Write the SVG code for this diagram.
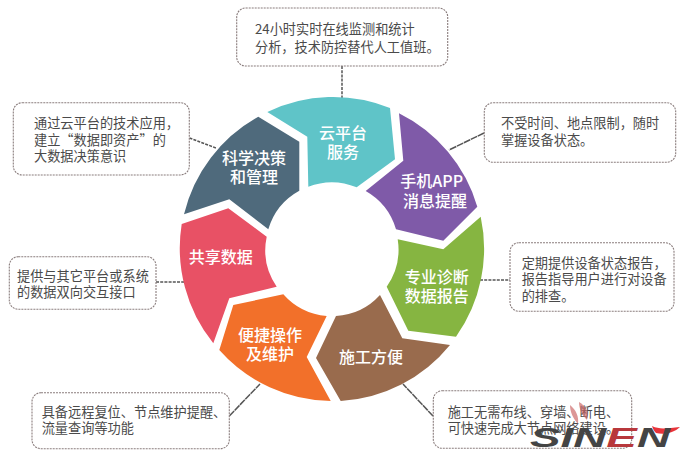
<svg xmlns="http://www.w3.org/2000/svg" width="696" height="460" viewBox="0 0 696 460">
<style>
text{font-family:"Noto Sans CJK SC","Noto Sans",sans-serif}
.box{fill:#fff;stroke:#8a7d7d;stroke-width:1.1;stroke-dasharray:2 1}
.t{font-size:13.2px;fill:#4a4a4a}
.l{font-size:16px;fill:#fff;text-anchor:middle;font-weight:500}
.c{fill:none;stroke:#555;stroke-width:1.5;stroke-dasharray:3 1.2}
.s{stroke-dasharray:7 .7}
</style>
<rect width="696" height="460" fill="#fff"/>
<g id="connectors">
<path class="c" d="M342,66V98"/>
<path class="c" d="M189.5,138L216,148"/>
<path class="c" d="M156,282H184"/>
<path class="c s" d="M484,133L449,150"/>
<path class="c" d="M480,280H510"/>
<path class="c s" d="M229.3,416L260,384"/>
<path class="c s" d="M433,416L403,384"/>
</g>
<g id="seg-cloud"><path fill="#5fc4c8" d="M267.3,112A152 152 0 0 1 390,108L395,159.3L356.7,187.3A65 65 0 0 0 308.3,186.7L307.3,136.7Z"/><text class="l" x="343" y="139">云平台</text><text class="l" x="343" y="158">服务</text></g>
<g id="seg-app"><path fill="#7f5aa8" d="M399,113.3A152 152 0 0 1 477.3,206.7L443.3,240.7L396,229.3A65 65 0 0 0 365.7,191L403.3,160.7Z"/><text class="l" x="431.7" y="187">手机APP</text><text class="l" x="435" y="206.5">消息提醒</text></g>
<g id="seg-report"><path fill="#86b541" d="M480.7,216.7A152 152 0 0 1 456,336.7L408.3,330.7L386.7,286.7A65 65 0 0 0 397.7,239.3L443.3,249.3Z"/><text class="l" x="436.7" y="282.5">专业诊断</text><text class="l" x="436.7" y="301.5">数据报告</text></g>
<g id="seg-build"><path fill="#996b4d" d="M450,345A152 152 0 0 1 340.7,401L316,358L336,316A65 65 0 0 0 380,295L402.3,338.3Z"/><text class="l" x="371" y="362.5">施工方便</text></g>
<g id="seg-ops"><path fill="#f2702a" d="M330.7,401A152 152 0 0 1 219.3,350L233.3,305L283.3,294.3A65 65 0 0 0 326.7,316L306.7,357Z"/><text class="l" x="270" y="341">便捷操作</text><text class="l" x="270" y="360">及维护</text></g>
<g id="seg-share"><path fill="#e85165" d="M213.3,343.3A152 152 0 0 1 181.7,224L228.3,208.3L266.7,236.7A65 65 0 0 0 276.7,286.7L229.3,298.3Z"/><text class="l" x="220.7" y="262.5">共享数据</text></g>
<g id="seg-decide"><path fill="#4f6a7c" d="M184,214.3A152 152 0 0 1 258.3,116.7L299.3,141.7L299.3,190.7A65 65 0 0 0 268.3,229.3L229.3,199.3Z"/><text class="l" x="254" y="163.5">科学决策</text><text class="l" x="254" y="182.5">和管理</text></g>
<g id="box-top"><rect class="box" x="236.7" y="8" width="211" height="58" rx="9"/><text class="t" x="255" y="34">24小时实时在线监测和统计</text><text class="t" x="255" y="52">分析，技术防控替代人工值班。</text></g>
<g id="box-decide"><rect class="box" x="13.3" y="102.7" width="176" height="72.3" rx="9"/><text class="t" x="34" y="128">通过云平台的技术应用，</text><text class="t" x="34" y="145">建立“数据即资产”的</text><text class="t" x="34" y="161">大数据决策意识</text></g>
<g id="box-share"><rect class="box" x="9.3" y="256.7" width="146.7" height="52.6" rx="9"/><text class="t" x="17" y="281">提供与其它平台或系统</text><text class="t" x="17" y="296.5">的数据双向交互接口</text></g>
<g id="box-app"><rect class="box" x="484.3" y="102.7" width="191.4" height="59.6" rx="9"/><text class="t" x="501" y="128">不受时间、地点限制，随时</text><text class="t" x="501" y="145">掌握设备状态。</text></g>
<g id="box-report"><rect class="box" x="510" y="242.7" width="164" height="68.6" rx="9"/><text class="t" x="521.7" y="268">定期提供设备状态报告，</text><text class="t" x="521.7" y="284">报告指导用户进行对设备</text><text class="t" x="521.7" y="300.5">的排查。</text></g>
<g id="box-ops"><rect class="box" x="32" y="392.7" width="197.3" height="56" rx="9"/><text class="t" x="41.7" y="416.5">具备远程复位、节点维护提醒、</text><text class="t" x="41.7" y="433">流量查询等功能</text></g>
<g id="box-build"><rect class="box" x="433.3" y="390.7" width="198.4" height="57.6" rx="9"/><text class="t" x="447.7" y="416.5">施工无需布线、穿墙、断电、</text><text class="t" x="447.7" y="433">可快速完成大节点网络建设。</text></g>
<g id="watermark">
<path fill="#c9605f" opacity=".65" d="M570,405C576,410 579,416 578,424C573,418 570,412 570,405ZM579,402C586,406 589,412 587,420C582,415 579,409 579,402Z"/>
<path fill="#e8333a" d="M652,426C660,430 668,428 680,427C674,433 664,435 656,433C654,431 653,429 652,426Z"/>
<text x="530" y="447" font-size="28" font-weight="700" font-style="italic" textLength="140" lengthAdjust="spacingAndGlyphs" style="font-family:'Liberation Sans',sans-serif" fill="#444">SIN<tspan fill="#b8383c">E</tspan>N</text>
</g>
</svg>
